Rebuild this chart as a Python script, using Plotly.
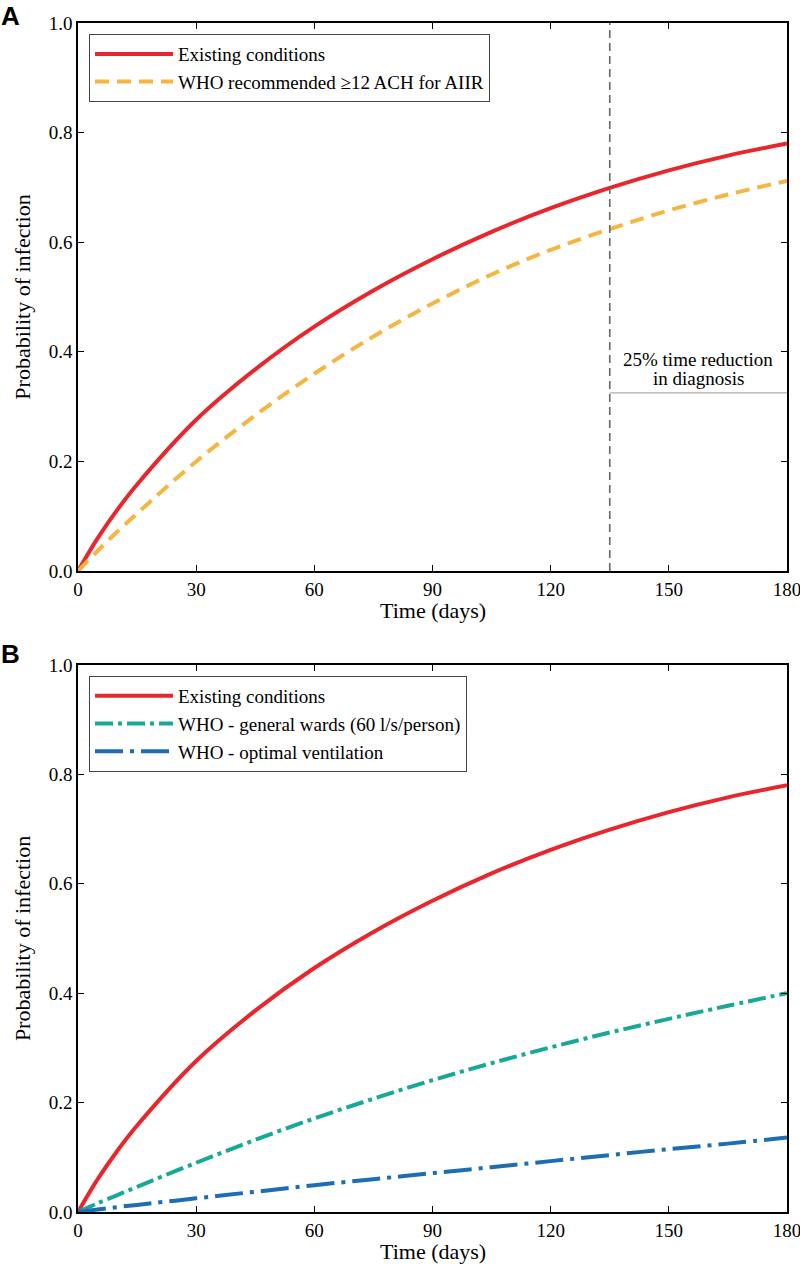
import plotly.graph_objects as go

# ---- data ----
days = [0, 5, 10, 15, 30, 45, 60, 75, 90, 105, 120, 135, 150, 165, 180]

existing = [0.0, 0.060, 0.112, 0.158, 0.276, 0.368, 0.446, 0.512, 0.569, 0.619, 0.662, 0.699, 0.731, 0.758, 0.780]
who_aiir = [0.0, 0.037, 0.072, 0.105, 0.200, 0.284, 0.360, 0.428, 0.488, 0.541, 0.586, 0.624, 0.658, 0.687, 0.712]
who_general = [0.0, 0.016, 0.031, 0.046, 0.090, 0.132, 0.171, 0.207, 0.241, 0.272, 0.301, 0.328, 0.353, 0.377, 0.400]
who_optimal = [0.0, 0.0045, 0.009, 0.013, 0.025, 0.037, 0.049, 0.060, 0.071, 0.082, 0.093, 0.104, 0.115, 0.125, 0.136]

diagnosis_day = 135
reduction_level = 0.325
x_ticks = [0, 30, 60, 90, 120, 150, 180]
y_ticks = [0.0, 0.2, 0.4, 0.6, 0.8, 1.0]

RED = "#e8262b"
ORANGE = "#f6b441"
TEAL = "#17a897"
BLUE = "#1c6db4"
SERIF = "Liberation Serif"

fig = go.Figure()

# Panel A
fig.add_trace(go.Scatter(x=days, y=existing, mode="lines", name="Existing conditions",
                         line=dict(color=RED, width=4, shape="spline"),
                         xaxis="x", yaxis="y", legend="legend"))
fig.add_trace(go.Scatter(x=days, y=who_aiir, mode="lines", name="WHO recommended ≥12 ACH for AIIR",
                         line=dict(color=ORANGE, width=4, dash="14px,8px", shape="spline"),
                         xaxis="x", yaxis="y", legend="legend"))
fig.add_trace(go.Scatter(x=[diagnosis_day, diagnosis_day], y=[0, 1], mode="lines", showlegend=False,
                         line=dict(color="#666666", width=1.6, dash="8px,5px"),
                         xaxis="x", yaxis="y"))
fig.add_trace(go.Scatter(x=[diagnosis_day, 180], y=[reduction_level, reduction_level], mode="lines",
                         showlegend=False, line=dict(color="#999999", width=1),
                         xaxis="x", yaxis="y"))

# Panel B
fig.add_trace(go.Scatter(x=days, y=existing, mode="lines", name="Existing conditions",
                         line=dict(color=RED, width=4, shape="spline"),
                         xaxis="x2", yaxis="y2", legend="legend2"))
fig.add_trace(go.Scatter(x=days, y=who_general, mode="lines", name="WHO - general wards (60 l/s/person)",
                         line=dict(color=TEAL, width=4, dash="18px,5px,4px,5px", shape="spline"),
                         xaxis="x2", yaxis="y2", legend="legend2"))
fig.add_trace(go.Scatter(x=days, y=who_optimal, mode="lines", name="WHO - optimal ventilation",
                         line=dict(color=BLUE, width=4, dash="28px,7px,4px,7px", shape="spline"),
                         xaxis="x2", yaxis="y2", legend="legend2"))

axis_common = dict(
    showgrid=False, zeroline=False, showline=True, linecolor="black", linewidth=1.5,
    mirror="allticks", ticks="inside", ticklen=6, tickwidth=1, tickcolor="black",
    tickfont=dict(family=SERIF, size=19, color="black"), automargin=False,
    ticklabeloverflow="allow",
)

xax = dict(axis_common, range=[0, 180], tickvals=x_ticks)
yax = dict(axis_common, range=[0, 1], tickvals=y_ticks, tickformat=".1f",
           title=dict(text="Probability of infection", font=dict(family=SERIF, size=22, color="black"),
                      standoff=12))

legend_common = dict(
    x=0.0155, xanchor="left", yanchor="top",
    bgcolor="white", bordercolor="#444444", borderwidth=1,
    font=dict(family=SERIF, size=19, color="black"),
    itemwidth=78, tracegroupgap=0,
)

title_font = dict(family=SERIF, size=22, color="black")
note_font = dict(family=SERIF, size=19, color="black")
letter_font = dict(family="Liberation Sans", size=26, color="black")

fig.update_layout(
    width=800, height=1264,
    margin=dict(l=78, r=13, t=23, b=52),
    paper_bgcolor="white", plot_bgcolor="white",
    xaxis=dict(xax, domain=[0, 1], anchor="y"),
    yaxis=dict(yax, domain=[0.5391, 1], anchor="x"),
    xaxis2=dict(xax, domain=[0, 1], anchor="y2"),
    yaxis2=dict(yax, domain=[0, 0.4601], anchor="x2"),
    legend=dict(legend_common, y=0.9907),
    legend2=dict(legend_common, y=0.4508),
    annotations=[
        dict(text="25% time reduction", x=157.5, y=0.386, xref="x", yref="y",
             xanchor="center", yanchor="middle", showarrow=False, font=note_font),
        dict(text="in diagnosis", x=157.5, y=0.352, xref="x", yref="y",
             xanchor="center", yanchor="middle", showarrow=False, font=note_font),
        dict(text="Time (days)", x=0.5, y=0.5063, xref="paper", yref="paper",
             xanchor="center", yanchor="middle", showarrow=False, font=title_font),
        dict(text="Time (days)", x=0.5, y=-0.0336, xref="paper", yref="paper",
             xanchor="center", yanchor="middle", showarrow=False, font=title_font),
        dict(text="<b>A</b>", x=-0.11, y=1.0193, xref="paper", yref="paper", xanchor="left", yanchor="top",
             borderpad=0, showarrow=False, font=letter_font),
        dict(text="<b>B</b>", x=-0.11, y=0.4828, xref="paper", yref="paper", xanchor="left", yanchor="top",
             borderpad=0, showarrow=False, font=letter_font),
    ],
)

fig.write_html("out.html", config={"displayModeBar": False},
               post_script="document.body.style.margin='0';")
